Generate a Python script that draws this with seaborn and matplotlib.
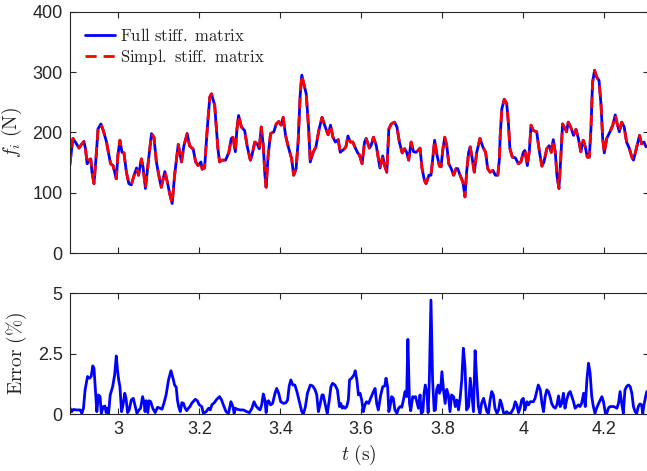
import matplotlib
matplotlib.use("Agg")
import matplotlib.pyplot as plt
import pandas as pd
import seaborn as sns

# Contact force f_i (N) sampled over time t (s)
t_force = [
    2.880, 2.888, 2.894, 2.903, 2.909, 2.915, 2.919, 2.923, 2.927, 2.932,
    2.935, 2.940, 2.946, 2.950, 2.957, 2.963, 2.971, 2.976, 2.981, 2.987,
    2.995, 2.999, 3.004, 3.009, 3.014, 3.020, 3.026, 3.032, 3.039, 3.045,
    3.050, 3.057, 3.061, 3.067, 3.074, 3.082, 3.088, 3.094, 3.100, 3.106,
    3.115, 3.121, 3.127, 3.133, 3.139, 3.148, 3.156, 3.162, 3.170, 3.176,
    3.185, 3.191, 3.197, 3.204, 3.207, 3.213, 3.220, 3.226, 3.230,
    3.238, 3.241, 3.246, 3.250, 3.256, 3.265, 3.273, 3.279, 3.283, 3.289,
    3.293, 3.297, 3.304, 3.312, 3.318, 3.326, 3.330, 3.337, 3.343, 3.348,
    3.353, 3.358, 3.362, 3.365, 3.370, 3.376, 3.384, 3.390, 3.396, 3.402,
    3.407, 3.413, 3.419, 3.428, 3.433, 3.439, 3.444, 3.449, 3.453, 3.459,
    3.464, 3.470, 3.474, 3.481, 3.488, 3.495, 3.503, 3.511, 3.518, 3.524,
    3.530, 3.536, 3.543, 3.548, 3.557, 3.562, 3.567, 3.573, 3.579, 3.586,
    3.592,
    3.595, 3.602, 3.608, 3.612, 3.620, 3.624, 3.630, 3.637, 3.641, 3.646,
    3.653, 3.657, 3.663, 3.668, 3.674, 3.682, 3.688, 3.694, 3.701, 3.707,
    3.712, 3.717, 3.723, 3.729, 3.735, 3.740, 3.745, 3.750, 3.756, 3.760,
    3.767, 3.772, 3.776, 3.781, 3.787, 3.793, 3.797, 3.801, 3.806, 3.811,
    3.816, 3.822, 3.828, 3.834, 3.838, 3.844, 3.851, 3.856, 3.860, 3.865,
    3.869, 3.874, 3.879, 3.885, 3.893, 3.900, 3.907, 3.912, 3.918, 3.925,
    3.931, 3.937, 3.941,
    3.943, 3.947, 3.953, 3.959, 3.963, 3.967, 3.973, 3.980, 3.988, 3.994,
    4.000, 4.004, 4.010, 4.015, 4.019, 4.025, 4.033, 4.040, 4.046, 4.051,
    4.058, 4.064, 4.069, 4.074, 4.079, 4.083, 4.088, 4.092, 4.097, 4.103,
    4.107, 4.111, 4.117, 4.124, 4.130, 4.136, 4.142, 4.148, 4.153, 4.158,
    4.163, 4.167, 4.171, 4.176, 4.181, 4.187, 4.192, 4.196, 4.200, 4.206,
    4.214, 4.221, 4.227, 4.232, 4.237, 4.243, 4.249, 4.255, 4.262, 4.268,
    4.272, 4.278, 4.287, 4.292, 4.298, 4.303,
]
f_force = [
    145, 190, 184, 174, 180, 185, 173, 148, 154, 156,
    134, 115, 167, 206, 214, 203, 184, 165, 148, 145,
    123, 162, 187, 167, 166, 134, 115, 113, 129, 141,
    129, 156, 143, 107, 151, 198, 192, 151, 129, 109,
    135, 118, 98, 82, 129, 180, 151, 178, 198, 178,
    172, 151, 145, 151, 139, 141, 209, 259, 264,
    245, 217, 173, 151, 154, 154, 167, 190, 192, 168,
    206, 228, 209, 203, 178, 154, 162, 184, 181, 173,
    209, 178, 129, 109, 162, 198, 201, 214, 218, 212,
    225, 195, 178, 156, 129, 140, 184, 261, 295, 278,
    264, 206, 151, 167, 176, 203, 225, 209, 196, 212,
    192, 184, 188, 167, 172, 176, 194, 184, 184, 173,
    165,
    163, 148, 184, 190, 174, 178, 192, 178, 162, 141,
    161, 146, 134, 206, 214, 217, 209, 184, 166, 173,
    167, 154, 184, 168, 167, 170, 174, 140, 120, 115,
    129, 129, 154, 187, 162, 144, 143, 170, 192, 178,
    148, 140, 129, 140, 140, 129, 117, 93, 134, 167,
    176, 156, 134, 167, 190, 176, 167, 140, 134, 137,
    129, 129, 156,
    195, 239, 255, 248, 217, 173, 159, 158, 148, 151,
    167, 170, 145, 170, 212, 203, 201, 167, 144, 151,
    173, 178, 167, 188, 167, 129, 107, 151, 214, 206,
    201, 217, 209, 195, 205, 190, 168, 187, 176, 159,
    159, 206, 283, 303, 292, 286, 245, 190, 166, 190,
    201, 212, 229, 214, 201, 217, 209, 184, 173, 159,
    154, 170, 195, 181, 184, 176,
]

# Relative error (%) between the two stiffness models
t_error = [
    2.881, 2.885, 2.889, 2.897, 2.906, 2.910, 2.914, 2.918, 2.924, 2.929,
    2.933, 2.937, 2.940, 2.944, 2.947, 2.951, 2.955, 2.958, 2.963, 2.967,
    2.970, 2.973, 2.976, 2.980, 2.986, 2.991, 2.995, 2.998, 3.001, 3.004,
    3.008, 3.011, 3.016, 3.019, 3.023, 3.027, 3.032, 3.037, 3.042, 3.046,
    3.051, 3.055, 3.060, 3.064, 3.066, 3.069, 3.073, 3.076, 3.080, 3.085,
    3.091, 3.097, 3.103, 3.108, 3.113, 3.118, 3.124, 3.130, 3.134, 3.139,
    3.143, 3.146, 3.149, 3.153, 3.157, 3.161, 3.165, 3.169, 3.173, 3.177,
    3.181, 3.190, 3.195, 3.200, 3.206, 3.210, 3.217, 3.223, 3.227, 3.231,
    3.237, 3.243, 3.250, 3.255, 3.261, 3.266, 3.272, 3.278, 3.283, 3.286,
    3.289, 3.293, 3.301, 3.309, 3.317, 3.324, 3.330, 3.335, 3.340, 3.345,
    3.350,
    3.354, 3.358, 3.362, 3.365, 3.368, 3.371, 3.376, 3.381, 3.387, 3.391,
    3.396, 3.401, 3.408, 3.414, 3.418, 3.422, 3.426, 3.431, 3.436, 3.441,
    3.447, 3.453, 3.457, 3.462, 3.467, 3.474, 3.480, 3.486, 3.490, 3.494,
    3.498, 3.503, 3.506, 3.513, 3.516, 3.521, 3.525, 3.529, 3.535, 3.541,
    3.546, 3.549, 3.553, 3.556, 3.560, 3.564, 3.568, 3.571, 3.576, 3.582,
    3.585, 3.589, 3.593, 3.597, 3.601, 3.605, 3.609, 3.613, 3.618, 3.623,
    3.630, 3.634, 3.638, 3.642, 3.648, 3.653, 3.658, 3.661, 3.665, 3.668,
    3.671, 3.675, 3.679, 3.683, 3.688, 3.692, 3.696, 3.700, 3.704, 3.708,
    3.712, 3.715, 3.719, 3.722, 3.727, 3.730, 3.734, 3.737, 3.741, 3.745,
    3.748, 3.752, 3.755, 3.758, 3.762, 3.765, 3.768, 3.772, 3.776, 3.780,
    3.783, 3.786, 3.790, 3.793, 3.796, 3.799, 3.803, 3.807, 3.811, 3.815,
    3.819,
    3.823, 3.828, 3.832, 3.836, 3.840, 3.844, 3.848, 3.852, 3.856, 3.860,
    3.865, 3.869, 3.873, 3.877, 3.881, 3.885, 3.889, 3.893, 3.897, 3.902,
    3.906, 3.910, 3.914, 3.918, 3.922, 3.926, 3.930, 3.935, 3.939, 3.943,
    3.947, 3.951, 3.955, 3.959, 3.963, 3.969, 3.976, 3.980, 3.984, 3.988,
    3.992, 3.996, 4.000, 4.004, 4.009, 4.013, 4.017, 4.021, 4.025, 4.029,
    4.033, 4.037, 4.042, 4.046, 4.050, 4.054, 4.058, 4.062, 4.066, 4.070,
    4.074, 4.079, 4.083, 4.087, 4.091, 4.095, 4.099, 4.103, 4.107, 4.112,
    4.116, 4.120, 4.124, 4.128, 4.132, 4.136, 4.140, 4.144, 4.149, 4.153,
    4.157, 4.161, 4.165, 4.169, 4.173, 4.177, 4.181, 4.186, 4.190, 4.194,
    4.198, 4.202, 4.206, 4.210, 4.214, 4.218, 4.223, 4.227, 4.231, 4.235,
    4.239, 4.243, 4.247, 4.251, 4.256, 4.260, 4.264, 4.268, 4.272, 4.276,
    4.280, 4.284, 4.288, 4.292, 4.295, 4.298, 4.302, 4.305,
]
error_pct = [
    0.25, 0.11, 0.20, 0.18, 0.18, 0.04, 0.25, 1.01, 1.56, 1.49,
    1.56, 2.00, 1.90, 0.87, 0.11, 0.80, 0.73, 0.04, 0.32, 0.34,
    0.07, 0.25, 0.04, 0.80, 1.14, 1.63, 2.41, 1.83, 1.42, 1.14,
    0.11, 0.32, 0.87, 0.66, 0.07, 0.18, 0.59, 0.66, 0.32, 0.04,
    0.18, 0.25, 0.73, 0.45, 0.11, 0.56, 0.07, 0.56, 0.52, 0.25,
    0.07, 0.29, 0.25, 0.21, 0.48, 0.80, 1.42, 1.80, 1.56, 1.21,
    1.12, 0.59, 0.32, 0.11, 0.48, 0.45, 0.25, 0.15, 0.25, 0.32,
    0.45, 0.62, 0.56, 0.39, 0.32, 0.04, 0.11, 0.25, 0.18, 0.39,
    0.48, 0.62, 0.73, 0.59, 0.32, 0.11, 0.04, 0.52, 0.32, 0.04,
    0.25, 0.21, 0.18, 0.18, 0.11, 0.07, 0.25, 0.52, 0.34, 0.25,
    0.18,
    0.39, 0.84, 0.59, 0.07, 0.52, 0.56, 0.39, 0.45, 0.87, 1.07,
    0.87, 0.52, 0.45, 0.48, 0.59, 1.17, 1.42, 1.21, 1.21, 0.94,
    0.52, 0.11, 0.01, 0.32, 0.87, 1.21, 1.17, 1.01, 0.80, 0.11,
    0.39, 0.80, 0.80, 0.25, 0.04, 0.59, 1.14, 1.28, 1.21, 1.01,
    0.32, 0.45, 0.25, 0.32, 0.25, 0.32, 0.59, 1.42, 1.49, 1.63,
    1.80, 1.42, 0.80, 0.87, 0.59, 0.11, 0.39, 0.52, 0.45, 0.66,
    0.94, 1.07, 0.45, 0.18, 0.80, 1.14, 1.17, 1.49, 1.14, 0.11,
    0.32, 0.73, 0.66, 0.18, 0.04, 0.25, 0.32, 0.29, 0.59, 0.94,
    0.73, 3.10, 0.45, 0.15, 0.73, 0.70, 0.73, 0.52, 0.25, 0.80,
    0.04, 0.11, 0.87, 1.21, 0.87, 0.07, 1.42, 4.72, 1.42, 0.15,
    0.18, 1.01, 1.21, 0.87, 1.01, 1.76, 1.01, 0.45, 1.03, 0.80,
    0.11,
    0.80, 0.73, 0.32, 0.59, 0.18, 0.66, 1.42, 2.73, 1.97, 0.18,
    0.32, 1.49, 0.80, 0.11, 2.63, 1.42, 0.32, 0.04, 0.45, 0.66,
    0.39, 0.11, 0.04, 0.59, 0.94, 0.80, 0.25, 0.04, 0.18, 0.59,
    0.39, 0.07, 0.04, 0.11, 0.04, 0.04, 0.25, 0.52, 0.39, 0.07,
    0.25, 0.59, 0.66, 0.18, 0.52, 0.39, 0.52, 0.52, 0.52, 0.66,
    0.94, 1.21, 1.01, 0.45, 0.11, 0.73, 1.01, 0.94, 0.73, 0.45,
    0.32, 0.25, 0.39, 0.76, 0.32, 0.45, 0.87, 0.25, 0.59, 0.87,
    0.94, 0.73, 0.52, 0.25, 0.32, 0.39, 0.32, 0.45, 0.87, 0.32,
    1.42, 2.11, 1.69, 0.73, 0.32, 0.04, 0.25, 0.45, 0.59, 0.73,
    0.52, 0.11, 0.04, 0.25, 0.32, 0.32, 0.32, 0.29, 0.25, 0.45,
    0.94, 0.45, 0.04, 1.01, 1.17, 1.21, 1.14, 0.87, 0.32, 0.11,
    0.04, 0.32, 0.43, 0.39, 0.04, 0.39, 0.73, 0.94,
]

series_names = ["Full stiff. matrix", "Simpl. stiff. matrix"]
x_ticks = [3.0, 3.2, 3.4, 3.6, 3.8, 4.0, 4.2]
x_tick_labels = ["3", "3.2", "3.4", "3.6", "3.8", "4", "4.2"]
f_ticks = [0, 100, 200, 300, 400]
err_ticks = [0, 2.5, 5]
err_tick_labels = ["0", "2.5", "5"]

sns.set_theme(style="ticks")
plt.rcParams["font.family"] = ["Liberation Sans", "DejaVu Sans"]
plt.rcParams["mathtext.fontset"] = "cm"
plt.rcParams["axes.unicode_minus"] = False

INK = "#262626"
W, H = 647, 471
fig = plt.figure(figsize=(W / 100, H / 100), dpi=100)
ax_f = fig.add_axes([69.5 / W, 1 - 253 / H, 579 / W, 241.2 / H])
ax_e = fig.add_axes([69.5 / W, 1 - 414.3 / H, 579 / W, 121 / H])

x_lo = 2.8795
x_hi = x_lo + 579 / 405.0

force_df = pd.DataFrame({"t": t_force, "f": f_force})
error_df = pd.DataFrame({"t": t_error, "e": error_pct})

def tex(s):
    return r"$\mathrm{" + s.replace(" ", r"\ ").replace("%", r"\%") + "}$"

sns.lineplot(data=force_df, x="t", y="f", ax=ax_f, color=(0, 0, 1),
             linewidth=2.0, estimator=None, sort=False, label=tex(series_names[0]))
sns.lineplot(data=force_df, x="t", y="f", ax=ax_f, color=(1, 0, 0),
             linewidth=2.0, estimator=None, sort=False, label=tex(series_names[1]),
             dashes=False, linestyle=(0, (4.0, 2.5)))
sns.lineplot(data=error_df, x="t", y="e", ax=ax_e, color=(0, 0, 1),
             linewidth=2.0, estimator=None, sort=False)

for ax in (ax_f, ax_e):
    ax.set_xlim(x_lo, x_hi)
    ax.set_xticks(x_ticks)
    for sp in ax.spines.values():
        sp.set_color(INK)
        sp.set_linewidth(0.8)
    ax.tick_params(direction="in", top=True, right=True, length=4.5,
                   width=0.8, color=INK, labelcolor=INK, labelsize=13, pad=5)
    ax.set_facecolor("white")

ax_f.set_ylim(0, 400)
ax_f.set_yticks(f_ticks)
ax_f.set_xticklabels([])
ax_f.set_xlabel("")
ax_f.set_ylabel(r"$f_i\ \mathrm{(N)}$", fontsize=14, color=INK, labelpad=6)

ax_e.set_ylim(0, 5)
ax_e.set_yticks(err_ticks)
ax_e.set_yticklabels(err_tick_labels)
ax_e.set_xticklabels(x_tick_labels)
ax_e.set_ylabel(tex("Error (%)"), fontsize=14, color=INK, labelpad=6)
ax_e.set_xlabel(r"$t\ \mathrm{(s)}$", fontsize=14, color=INK, labelpad=3)

leg = ax_f.legend(loc="upper left", frameon=False, fontsize=12,
                  handlelength=1.8, handletextpad=0.35, labelspacing=0.2,
                  borderaxespad=0.6, borderpad=0.3)
for txt in leg.get_texts():
    txt.set_color(INK)

fig.savefig("out.png", dpi=100, facecolor="white")
